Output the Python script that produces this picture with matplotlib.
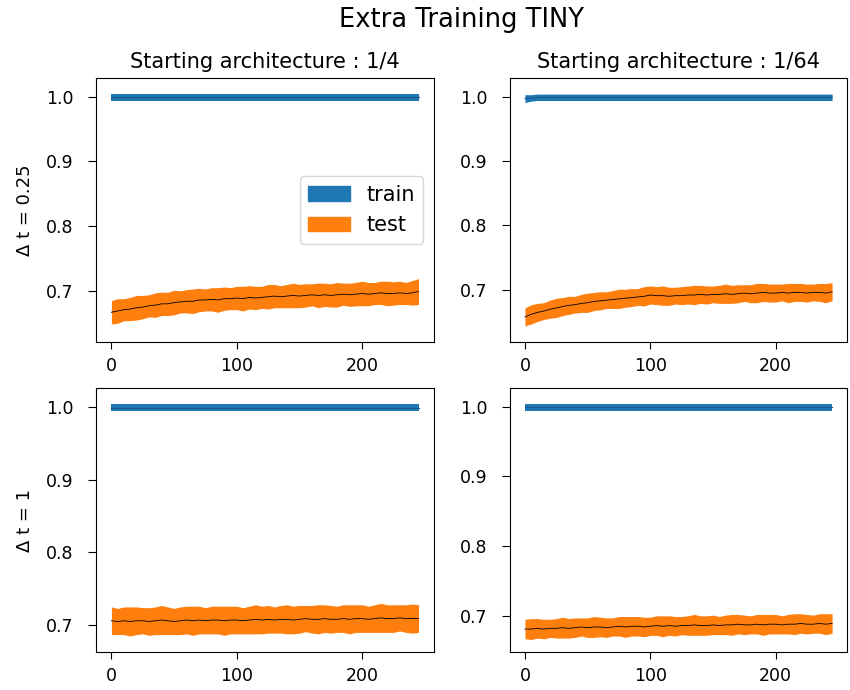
import numpy as np
import matplotlib
matplotlib.use("Agg")
import matplotlib.pyplot as plt
from matplotlib.patches import Patch

# epochs sampled every 5 steps
epochs = list(range(0, 250, 5))

col_titles = ["Starting architecture : 1/4", "Starting architecture : 1/64"]
row_labels = ["Δ t = 0.25", "Δ t = 1"]

# ---- Δt = 0.25, start 1/4 ----
train_mean_a = [0.999] * 50
train_hw_a = [0.005] * 50
test_mean_a = [0.667, 0.669, 0.671, 0.672, 0.674, 0.675, 0.677, 0.678, 0.680, 0.680,
               0.682, 0.683, 0.684, 0.684, 0.686, 0.686, 0.687, 0.686, 0.688, 0.688,
               0.689, 0.688, 0.690, 0.689, 0.690, 0.691, 0.692, 0.691, 0.692, 0.693,
               0.692, 0.693, 0.694, 0.693, 0.694, 0.693, 0.694, 0.695, 0.694, 0.695,
               0.696, 0.695, 0.696, 0.697, 0.696, 0.696, 0.697, 0.696, 0.697, 0.699]
test_hw_a = [0.018, 0.019, 0.017, 0.018, 0.019, 0.018, 0.017, 0.019, 0.018, 0.018,
             0.019, 0.017, 0.018, 0.019, 0.018, 0.017, 0.018, 0.019, 0.018, 0.017,
             0.018, 0.019, 0.018, 0.018, 0.017, 0.019, 0.018, 0.017, 0.018, 0.019,
             0.018, 0.018, 0.017, 0.019, 0.018, 0.018, 0.019, 0.017, 0.018, 0.018,
             0.019, 0.018, 0.017, 0.018, 0.019, 0.018, 0.018, 0.017, 0.019, 0.020]

# ---- Δt = 0.25, start 1/64 ----
train_mean_b = [0.997, 0.998, 0.999] + [0.999] * 47
train_hw_b = [0.006, 0.005, 0.005] + [0.005] * 47
test_mean_b = [0.658, 0.662, 0.665, 0.667, 0.670, 0.672, 0.674, 0.676, 0.677, 0.679,
               0.680, 0.682, 0.683, 0.684, 0.685, 0.686, 0.687, 0.688, 0.689, 0.690,
               0.692, 0.691, 0.691, 0.690, 0.691, 0.691, 0.692, 0.692, 0.693, 0.692,
               0.693, 0.693, 0.694, 0.693, 0.694, 0.695, 0.694, 0.695, 0.696, 0.695,
               0.695, 0.696, 0.695, 0.696, 0.696, 0.695, 0.696, 0.696, 0.695, 0.697]
test_hw_b = [0.014, 0.015, 0.014, 0.013, 0.014, 0.015, 0.014, 0.014, 0.013, 0.014,
             0.015, 0.014, 0.014, 0.013, 0.014, 0.015, 0.014, 0.014, 0.013, 0.015,
             0.014, 0.014, 0.015, 0.014, 0.013, 0.014, 0.014, 0.015, 0.014, 0.014,
             0.013, 0.014, 0.015, 0.014, 0.014, 0.013, 0.014, 0.015, 0.014, 0.014,
             0.014, 0.013, 0.015, 0.014, 0.014, 0.014, 0.013, 0.014, 0.015, 0.014]

# ---- Δt = 1, start 1/4 ----
train_mean_c = [0.999] * 50
train_hw_c = [0.005] * 50
test_mean_c = [0.706, 0.705, 0.706, 0.705, 0.706, 0.706, 0.705, 0.706, 0.707, 0.706,
               0.705, 0.706, 0.707, 0.706, 0.707, 0.706, 0.707, 0.707, 0.706, 0.707,
               0.707, 0.706, 0.707, 0.708, 0.707, 0.708, 0.707, 0.708, 0.708, 0.707,
               0.708, 0.709, 0.708, 0.708, 0.709, 0.708, 0.708, 0.709, 0.708, 0.709,
               0.709, 0.708, 0.709, 0.710, 0.709, 0.709, 0.710, 0.709, 0.709, 0.709]
test_hw_c = [0.019, 0.018, 0.019, 0.020, 0.019, 0.018, 0.019, 0.019, 0.020, 0.019,
             0.018, 0.019, 0.019, 0.020, 0.019, 0.018, 0.019, 0.019, 0.020, 0.019,
             0.019, 0.018, 0.019, 0.020, 0.019, 0.019, 0.018, 0.019, 0.020, 0.019,
             0.019, 0.018, 0.019, 0.020, 0.019, 0.019, 0.018, 0.019, 0.020, 0.019,
             0.019, 0.018, 0.019, 0.020, 0.019, 0.019, 0.018, 0.019, 0.020, 0.019]

# ---- Δt = 1, start 1/64 ----
train_mean_d = [0.999] * 50
train_hw_d = [0.005] * 50
test_mean_d = [0.681, 0.681, 0.682, 0.681, 0.682, 0.682, 0.683, 0.682, 0.683, 0.684,
               0.683, 0.684, 0.684, 0.683, 0.684, 0.685, 0.684, 0.685, 0.685, 0.684,
               0.685, 0.686, 0.685, 0.686, 0.685, 0.686, 0.686, 0.687, 0.686, 0.686,
               0.687, 0.686, 0.687, 0.687, 0.688, 0.687, 0.687, 0.688, 0.687, 0.688,
               0.688, 0.687, 0.688, 0.688, 0.689, 0.688, 0.688, 0.689, 0.688, 0.689]
test_hw_d = [0.014, 0.015, 0.014, 0.014, 0.013, 0.014, 0.015, 0.014, 0.014, 0.013,
             0.014, 0.015, 0.014, 0.014, 0.013, 0.014, 0.015, 0.014, 0.014, 0.014,
             0.013, 0.014, 0.015, 0.014, 0.014, 0.013, 0.014, 0.015, 0.014, 0.014,
             0.014, 0.013, 0.014, 0.015, 0.014, 0.014, 0.013, 0.014, 0.015, 0.014,
             0.014, 0.013, 0.014, 0.015, 0.014, 0.014, 0.013, 0.014, 0.015, 0.014]

panels = [
    [(train_mean_a, train_hw_a, test_mean_a, test_hw_a),
     (train_mean_b, train_hw_b, test_mean_b, test_hw_b)],
    [(train_mean_c, train_hw_c, test_mean_c, test_hw_c),
     (train_mean_d, train_hw_d, test_mean_d, test_hw_d)],
]
y_limits = [[(0.621, 1.029), (0.619, 1.029)],
            [(0.663, 1.026), (0.648, 1.027)]]

TRAIN_C = "#1f77b4"
TEST_C = "#ff7f0e"

plt.rcParams["font.family"] = "DejaVu Sans"
fig, axes = plt.subplots(2, 2, figsize=(8.5, 6.9), dpi=100)
fig.subplots_adjust(left=0.113, right=0.997, top=0.887, bottom=0.055,
                    wspace=0.224, hspace=0.174)

x = np.array(epochs)
for r in range(2):
    for c in range(2):
        ax = axes[r][c]
        trm, trh, tem, teh = (np.array(v) for v in panels[r][c])
        ax.fill_between(x, trm - trh, trm + trh, color=TRAIN_C, lw=0)
        ax.plot(x, trm, color="#1a5a8a", lw=0.8)
        ax.fill_between(x, tem - teh, tem + teh, color=TEST_C, lw=0)
        ax.plot(x, tem, color="black", lw=0.6)
        ax.set_ylim(*y_limits[r][c])
        ax.set_yticks([0.7, 0.8, 0.9, 1.0])
        ax.set_xticks([0, 100, 200])
        ax.tick_params(axis="y", labelsize=12.5, length=6, pad=10)
        ax.tick_params(axis="x", labelsize=12.5, length=5, pad=6)
        if r == 0:
            ax.set_title(col_titles[c], fontsize=15, pad=7)
        if c == 0:
            ax.set_ylabel(row_labels[r], fontsize=13, labelpad=9)

axes[0][0].legend(handles=[Patch(color=TRAIN_C, label="train"),
                           Patch(color=TEST_C, label="test")],
                  loc="center right", fontsize=15)

fig.suptitle("Extra Training TINY", fontsize=18.5, x=0.543, y=0.99)
fig.savefig("out.png", dpi=100)
